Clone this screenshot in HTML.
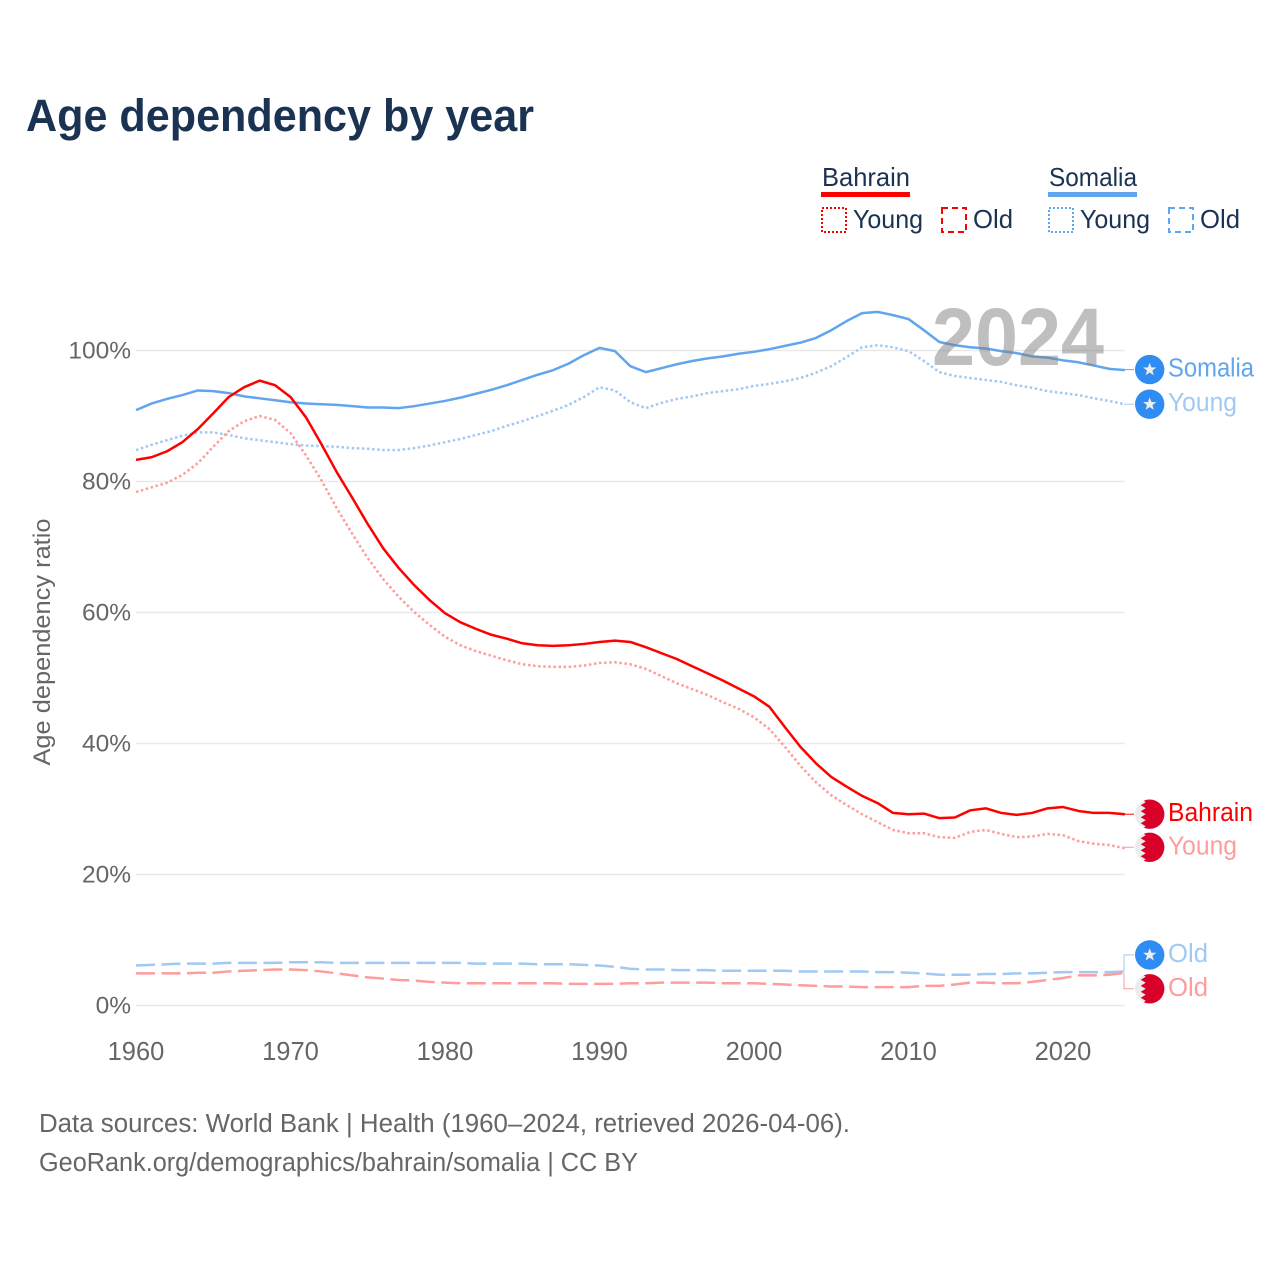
<!DOCTYPE html>
<html>
<head>
<meta charset="utf-8">
<title>Age dependency by year</title>
<style>
html,body{margin:0;padding:0;background:#fff;}
svg{display:block;}
text{font-family:"Liberation Sans",sans-serif;}
</style>
</head>
<body>
<svg id="chart" xmlns="http://www.w3.org/2000/svg" width="1280" height="1280" viewBox="0 0 1280 1280">
  <defs>
    <clipPath id="flag-clip"><circle cx="0" cy="0" r="14.7"/></clipPath>
    <g id="flag-bahrain" clip-path="url(#flag-clip)">
      <rect x="-15" y="-15" width="30" height="30" fill="#ececec"/>
      <polygon fill="#d90029" points="15,-15 -8,-15 -4,-12 -9,-9 -4,-6 -9,-3 -4,0 -9,3 -4,6 -9,9 -4,12 -8,15 15,15"/>
    </g>
    <g id="flag-somalia">
      <circle cx="0" cy="0" r="14.7" fill="#2f8cf2"/>
      <polygon fill="#eeeeee" points="0,-6.8 1.7,-2.2 6.6,-2.1 2.7,0.9 4.1,5.6 0,2.9 -4.1,5.6 -2.7,0.9 -6.6,-2.1 -1.7,-2.2"/>
    </g>
  </defs>

  <text x="26" y="131" font-size="45" font-weight="700" fill="#1a3352" textLength="508" lengthAdjust="spacingAndGlyphs">Age dependency by year</text>

  <g>
    <text x="822" y="186" font-size="26" fill="#1a3352" textLength="88" lengthAdjust="spacingAndGlyphs">Bahrain</text>
    <rect x="821" y="192" width="89" height="5" fill="#ff0000"/>
    <rect x="822" y="208" width="24" height="24" fill="none" stroke="#ff0000" stroke-width="2" stroke-dasharray="2 2"/>
    <text x="853" y="228" font-size="26" fill="#1a3352" textLength="70" lengthAdjust="spacingAndGlyphs">Young</text>
    <rect x="942" y="208" width="24" height="24" fill="none" stroke="#ff0000" stroke-width="2" stroke-dasharray="6 4"/>
    <text x="973" y="228" font-size="26" fill="#1a3352" textLength="40" lengthAdjust="spacingAndGlyphs">Old</text>
    <text x="1049" y="186" font-size="26" fill="#1a3352" textLength="88" lengthAdjust="spacingAndGlyphs">Somalia</text>
    <rect x="1048" y="192" width="89" height="5" fill="#60a5ee"/>
    <rect x="1049" y="208" width="24" height="24" fill="none" stroke="#60a5ee" stroke-width="2" stroke-dasharray="2 2"/>
    <text x="1080" y="228" font-size="26" fill="#1a3352" textLength="70" lengthAdjust="spacingAndGlyphs">Young</text>
    <rect x="1169" y="208" width="24" height="24" fill="none" stroke="#60a5ee" stroke-width="2" stroke-dasharray="6 4"/>
    <text x="1200" y="228" font-size="26" fill="#1a3352" textLength="40" lengthAdjust="spacingAndGlyphs">Old</text>
  </g>

  <g id="grid"></g>
  <g id="y-ticks"></g>
  <g id="x-ticks"></g>
  <text transform="translate(50,642) rotate(-90)" text-anchor="middle" font-size="24.5" fill="#666666" textLength="247" lengthAdjust="spacingAndGlyphs">Age dependency ratio</text>

  <g id="series"></g>
  <text id="year-watermark" x="932" y="365" font-size="82" font-weight="700" fill="#808080" fill-opacity="0.5" textLength="172" lengthAdjust="spacingAndGlyphs">2024</text>
  <g id="end-labels"></g>

  <text x="39" y="1132" font-size="25.5" fill="#666666" textLength="811" lengthAdjust="spacingAndGlyphs">Data sources: World Bank | Health (1960–2024, retrieved 2026-04-06).</text>
  <text x="39" y="1171" font-size="25.5" fill="#666666" textLength="599" lengthAdjust="spacingAndGlyphs">GeoRank.org/demographics/bahrain/somalia | CC BY</text>
</svg>
<script>
var startYear = 1960;
var xTickYears = [1960, 1970, 1980, 1990, 2000, 2010, 2020];
var yTickValues = [0, 20, 40, 60, 80, 100];

var bahrainTotal = [83.3,83.7,84.6,86,88,90.4,92.9,94.4,95.4,94.7,92.9,89.8,85.7,81.4,77.5,73.5,69.8,66.8,64.2,61.9,59.9,58.5,57.5,56.6,56,55.3,55,54.9,55,55.2,55.5,55.7,55.5,54.7,53.8,52.9,51.8,50.7,49.6,48.4,47.2,45.6,42.5,39.5,37,34.9,33.4,32,30.9,29.4,29.2,29.3,28.6,28.7,29.8,30.1,29.4,29.1,29.4,30.1,30.3,29.7,29.4,29.4,29.2];
var bahrainYoung = [78.4,79.1,79.8,81,82.8,85.3,87.7,89.2,90,89.4,87.4,84,80.2,75.9,72,68.3,65.1,62.4,60.1,58.1,56.3,55,54.1,53.4,52.7,52.1,51.8,51.7,51.7,51.9,52.3,52.4,52.1,51.4,50.3,49.2,48.3,47.4,46.3,45.3,44,42.2,39.5,36.6,34.1,32.1,30.6,29.2,28,26.8,26.3,26.3,25.7,25.6,26.5,26.8,26.2,25.7,25.8,26.2,26,25.1,24.7,24.5,24];
var bahrainOld = [4.9,4.9,4.9,4.9,5,5,5.2,5.3,5.4,5.5,5.5,5.4,5.2,4.9,4.6,4.3,4.1,3.9,3.8,3.6,3.5,3.4,3.4,3.4,3.4,3.4,3.4,3.4,3.3,3.3,3.3,3.3,3.4,3.4,3.5,3.5,3.5,3.5,3.4,3.4,3.4,3.3,3.2,3.1,3,2.9,2.9,2.8,2.8,2.8,2.8,3,3,3.2,3.5,3.5,3.4,3.4,3.6,3.9,4.2,4.6,4.6,4.7,5];
var somaliaTotal = [90.9,91.9,92.6,93.2,93.9,93.8,93.5,93,92.7,92.4,92.1,91.9,91.8,91.7,91.5,91.3,91.3,91.2,91.5,91.9,92.3,92.8,93.4,94,94.7,95.5,96.3,97,98,99.3,100.4,99.9,97.6,96.7,97.3,97.9,98.4,98.8,99.1,99.5,99.8,100.2,100.7,101.2,101.9,103.1,104.5,105.7,105.9,105.4,104.8,103.1,101.3,100.8,100.5,100.3,99.9,99.6,99.1,98.9,98.5,98.2,97.7,97.2,97];
var somaliaYoung = [84.8,85.6,86.3,87,87.5,87.5,87.1,86.6,86.3,86,85.7,85.5,85.4,85.3,85.1,85,84.8,84.8,85.1,85.5,86,86.5,87.1,87.7,88.5,89.2,90,90.8,91.7,92.9,94.4,93.9,92.1,91.2,92,92.6,93,93.5,93.8,94.1,94.6,94.9,95.3,95.8,96.6,97.6,99,100.5,100.8,100.5,99.9,98.4,96.7,96.1,95.8,95.5,95.2,94.7,94.3,93.8,93.5,93.2,92.7,92.3,91.8];
var somaliaOld = [6.1,6.2,6.3,6.4,6.4,6.4,6.5,6.5,6.5,6.5,6.6,6.6,6.6,6.5,6.5,6.5,6.5,6.5,6.5,6.5,6.5,6.5,6.4,6.4,6.4,6.4,6.3,6.3,6.3,6.2,6.1,5.9,5.6,5.5,5.5,5.4,5.4,5.4,5.3,5.3,5.3,5.3,5.3,5.2,5.2,5.2,5.2,5.2,5.1,5.1,5,4.9,4.7,4.7,4.7,4.8,4.8,4.9,4.9,5,5.1,5.1,5.1,5.1,5.2];

var NS = 'http://www.w3.org/2000/svg';
function xScale(year) { return 136 + (year - 1960) * 15.45; }
function yScale(v) { return 1005.5 - v * 6.55; }
function makeEl(tag, parentId) {
  var el = document.createElementNS(NS, tag);
  document.getElementById(parentId).appendChild(el);
  return el;
}

yTickValues.forEach(function (v) {
  var g = makeEl('line', 'grid');
  
  
  g.setAttribute('x1', xScale(1960));
  g.setAttribute('x2', xScale(2024));
  g.setAttribute('y1', yScale(v));
  g.setAttribute('y2', yScale(v));
  g.setAttribute('stroke', '#e9e9e9');
  g.setAttribute('stroke-width', '1.5');
  var t = makeEl('text', 'y-ticks');
  
  
  t.setAttribute('x', 131);
  t.setAttribute('y', yScale(v) + 8);
  t.setAttribute('text-anchor', 'end');
  t.setAttribute('font-size', '24.5');
  t.setAttribute('fill', '#666666');
  t.textContent = v + '%';
});

xTickYears.forEach(function (yr) {
  var t = makeEl('text', 'x-ticks');
  
  
  t.setAttribute('x', xScale(yr));
  t.setAttribute('y', 1060);
  t.setAttribute('text-anchor', 'middle');
  t.setAttribute('font-size', '25.5');
  t.setAttribute('fill', '#666666');
  t.textContent = String(yr);
});

function drawLine(values, name, color, dash) {
  var d = values.map(function (v, i) {
    return (i ? 'L' : 'M') + xScale(startYear + i).toFixed(2) + ' ' + yScale(v).toFixed(2);
  }).join(' ');
  var p = makeEl('path', 'series');
  
  
  p.setAttribute('d', d);
  p.setAttribute('fill', 'none');
  p.setAttribute('stroke', color);
  p.setAttribute('stroke-width', '2.5');
  p.setAttribute('stroke-linejoin', 'round');
  if (dash) p.setAttribute('stroke-dasharray', dash);
}
drawLine(somaliaOld, 'line-somalia-old', '#a0c9f3', '19 6.5');
drawLine(bahrainOld, 'line-bahrain-old', '#ff9c9c', '19 6.5');
drawLine(somaliaYoung, 'line-somalia-young', '#a0c9f3', '2.5 2.6');
drawLine(bahrainYoung, 'line-bahrain-young', '#ff9c9c', '2.5 2.6');
drawLine(somaliaTotal, 'line-somalia-total', '#60a5ee', null);
drawLine(bahrainTotal, 'line-bahrain-total', '#ff0000', null);

function drawEndLabel(values, label, flag, color, labelOffset, textWidth, name) {
  var endY = yScale(values[values.length - 1]);
  var cy = endY + labelOffset;
  var c = makeEl('path', 'end-labels');
  
  
  c.setAttribute('d', 'M1124 ' + endY.toFixed(1) + ' V' + cy.toFixed(1) + ' H1134');
  c.setAttribute('fill', 'none');
  c.setAttribute('stroke', color);
  c.setAttribute('stroke-width', '1');
  var u = makeEl('use', 'end-labels');
  
  
  u.setAttribute('href', '#' + flag);
  u.setAttribute('transform', 'translate(1149.7,' + cy.toFixed(1) + ')');
  var t = makeEl('text', 'end-labels');
  
  
  t.setAttribute('x', 1168);
  t.setAttribute('y', cy + 7);
  t.setAttribute('font-size', '25.5');
  t.setAttribute('fill', color);
  t.setAttribute('textLength', textWidth);
  t.setAttribute('lengthAdjust', 'spacingAndGlyphs');
  t.textContent = label;
}
drawEndLabel(somaliaTotal, 'Somalia', 'flag-somalia', '#60a5ee', -0.5, 86, 'end-somalia-total');
drawEndLabel(somaliaYoung, 'Young', 'flag-somalia', '#a0c9f3', 0, 69, 'end-somalia-young');
drawEndLabel(bahrainTotal, 'Bahrain', 'flag-bahrain', '#ff0000', 0, 85, 'end-bahrain-total');
drawEndLabel(bahrainYoung, 'Young', 'flag-bahrain', '#ff9c9c', -1, 69, 'end-bahrain-young');
drawEndLabel(somaliaOld, 'Old', 'flag-somalia', '#a0c9f3', -16.5, 40, 'end-somalia-old');
drawEndLabel(bahrainOld, 'Old', 'flag-bahrain', '#ff9c9c', 16, 40, 'end-bahrain-old');
</script>
</body>
</html>
